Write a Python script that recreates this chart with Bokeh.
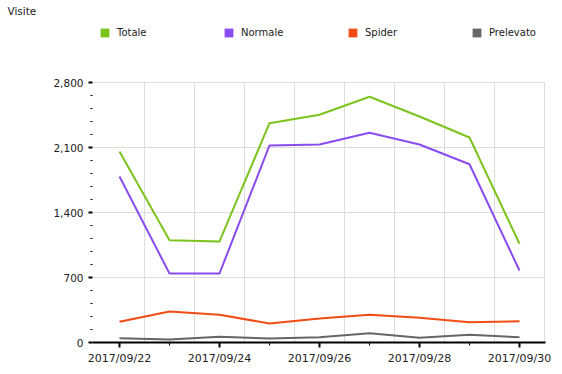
from bokeh.plotting import figure
from bokeh.models import Range1d, FixedTicker, Legend, LegendItem
from bokeh.embed import file_html
from bokeh.resources import INLINE

dates = ["2017/09/22", "2017/09/23", "2017/09/24", "2017/09/25", "2017/09/26",
         "2017/09/27", "2017/09/28", "2017/09/29", "2017/09/30"]
totale = [2057, 1102, 1088, 2362, 2452, 2646, 2434, 2208, 1063]
normale = [1788, 743, 743, 2122, 2132, 2258, 2132, 1920, 775]
spider = [223, 334, 298, 205, 258, 298, 266, 219, 229]
prelevato = [47, 32, 61, 43, 57, 100, 50, 83, 57]
series_names = ["Totale", "Normale", "Spider", "Prelevato"]
colors = ["#7cc41d", "#8a4cf0", "#f04c14", "#666666"]
y_ticks = [0, 700, 1400, 2100, 2800]
y_tick_labels = ["0", "700", "1,400", "2,100", "2,800"]
title_text = "Visite"

FONT = "DejaVu Sans"
TXT = "#222222"

# layout (pixels)
FRAME_W = 453
CHART_H = 260          # height of the 0..2800 band
FRAME_H = 322          # frame extends above the chart band to hold the legend

x = list(range(len(dates)))
y_max = y_ticks[-1]
y_end = y_max * FRAME_H / CHART_H

p = figure(frame_width=FRAME_W, frame_height=FRAME_H,
           min_border_left=92, min_border_top=20, min_border_right=17, min_border_bottom=32,
           x_range=Range1d(-0.54, 8.52), y_range=Range1d(0, y_end),
           title=title_text, output_backend="svg", toolbar_location=None)
p.outline_line_color = None
p.background_fill_color = "white"
p.border_fill_color = "white"

p.title.align = "left"
p.title.offset = -85
p.title.vertical_align = "middle"
p.title.standoff = 6
p.title.text_font = FONT
p.title.text_font_size = "10.5px"
p.title.text_font_style = "normal"
p.title.text_color = TXT

# x axis
p.xaxis.ticker = FixedTicker(ticks=x[::2], minor_ticks=x[1::2])
p.xaxis.major_label_overrides = {i: d for i, d in enumerate(dates)}
p.xaxis.axis_line_color = "black"
p.xaxis.axis_line_width = 2
p.xaxis.major_tick_line_color = "black"
p.xaxis.major_tick_line_width = 2
p.xaxis.major_tick_in = 0
p.xaxis.major_tick_out = 5
p.xaxis.minor_tick_line_color = "black"
p.xaxis.minor_tick_line_width = 1
p.xaxis.minor_tick_in = 0
p.xaxis.minor_tick_out = 3
p.xaxis.major_label_text_font = FONT
p.xaxis.major_label_text_font_size = "11px"
p.xaxis.major_label_text_color = TXT
p.xaxis.major_label_standoff = 4

# y axis
minor_y = [v for v in range(0, y_max + 1, 140) if v not in y_ticks]
p.yaxis.ticker = FixedTicker(ticks=y_ticks, minor_ticks=minor_y)
p.yaxis.major_label_overrides = {v: s for v, s in zip(y_ticks, y_tick_labels)}
p.yaxis.bounds = (0, y_max)
p.yaxis.axis_line_color = None
p.yaxis.major_tick_line_color = "black"
p.yaxis.major_tick_line_width = 2
p.yaxis.major_tick_in = 0
p.yaxis.major_tick_out = 4
p.yaxis.minor_tick_line_color = "black"
p.yaxis.minor_tick_line_width = 1
p.yaxis.minor_tick_in = 0
p.yaxis.minor_tick_out = 2
p.yaxis.major_label_text_font = FONT
p.yaxis.major_label_text_font_size = "10.5px"
p.yaxis.major_label_text_color = TXT
p.yaxis.major_label_standoff = 5

# grids: horizontal via Grid, vertical (between days) as bounded segments
p.xgrid.visible = False
p.ygrid.ticker = FixedTicker(ticks=y_ticks[1:])
p.ygrid.grid_line_color = "#dddddd"
grid_x = [i + 0.5 for i in x]
p.segment(x0=grid_x, y0=[0] * len(grid_x), x1=grid_x, y1=[y_max] * len(grid_x),
          line_color="#dddddd", line_width=1)

# lines (drawn back to front)
all_series = [totale, normale, spider, prelevato]
for vals, c in zip(all_series[::-1], colors[::-1]):
    p.line(x, vals, line_color=c, line_width=2)

# legend with square swatches (hidden area renderers supply the swatch glyph)
items = []
for name, c, vals in zip(series_names, colors, all_series):
    r = p.quad(left=x, right=x, top=vals, bottom=vals, fill_color=c, line_color=None)
    r.visible = False
    items.append(LegendItem(label=name, renderers=[r]))
legend = Legend(items=items, orientation="horizontal", location=(7, 304),
                glyph_width=11, glyph_height=11, label_standoff=7, label_width=50,
                label_height=11, spacing=56, padding=0, margin=0,
                border_line_color=None, background_fill_alpha=0,
                inactive_fill_alpha=0,
                label_text_font=FONT, label_text_font_size="10px",
                label_text_color=TXT)
p.add_layout(legend, "center")

open("out.html", "w").write(file_html(p, INLINE))
